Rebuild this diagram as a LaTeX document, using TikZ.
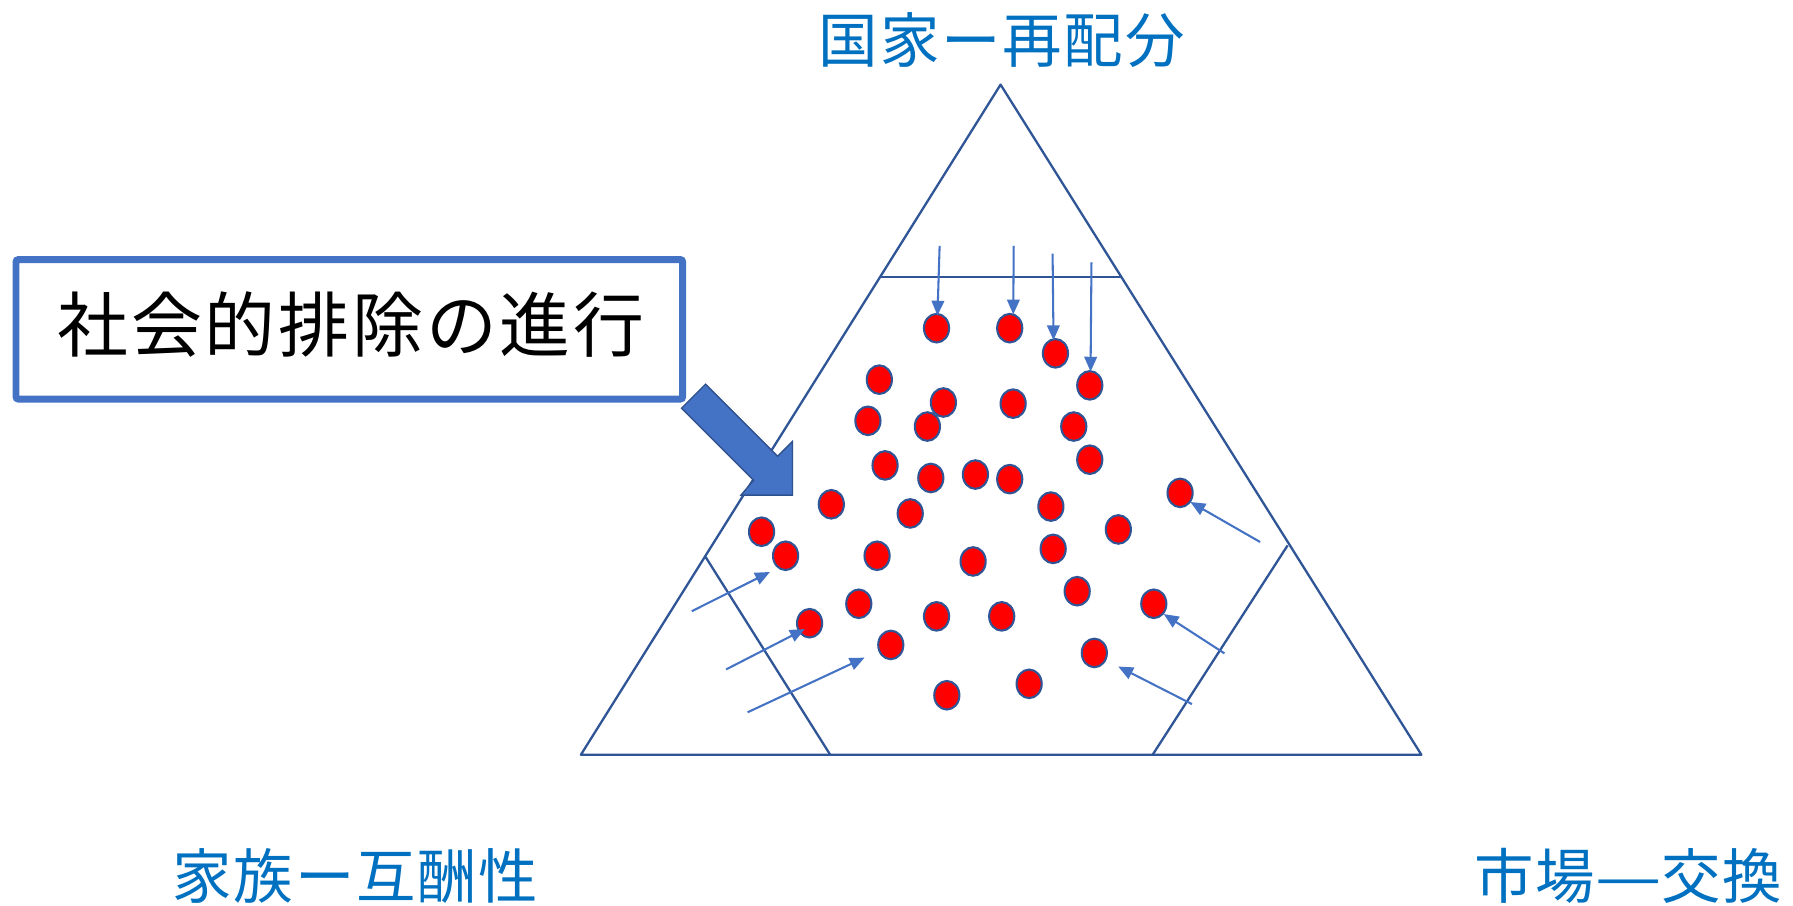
\documentclass[tikz,border=0pt]{standalone}
\usepackage{fontspec}
\newfontfamily\cjk{Noto Sans CJK JP}
\newfontfamily\cjklbl[LetterSpace=3]{Noto Sans CJK JP}
\newfontfamily\cjkbox[LetterSpace=4]{Noto Sans CJK JP}
\usetikzlibrary{arrows.meta,shapes.geometric}
\definecolor{lblblue}{HTML}{0070C0}
\definecolor{tri}{HTML}{2F5597}
\definecolor{acc}{HTML}{4472C4}
\definecolor{accdark}{HTML}{2F528F}
\tikzset{
  cornerlabel/.style={font=\cjklbl\fontsize{52}{60}\selectfont, text=lblblue, inner sep=0pt},
  boxtext/.style={font=\cjkbox\fontsize{62}{70}\selectfont, text=black, inner sep=0pt},
  dot/.style={ellipse, fill=red, draw=tri, line width=1.8pt, minimum width=22pt, minimum height=25pt, inner sep=0pt},
  inarrow/.style={draw=acc, line width=1.8pt, -{Triangle[length=13pt,width=11pt]}},
  edgeline/.style={draw=tri, line width=2pt, line join=round},
  bigarrow/.style={fill=acc, draw=accdark, line width=1.2pt, line join=miter},
  titlebox/.style={draw=acc, line width=6pt, rounded corners=2pt}
}
\begin{document}
\begin{tikzpicture}[x=1pt,y=-1pt]
\useasboundingbox (0,0) rectangle (1568,792);
\fill[white] (0,0) rectangle (1568,792);

% triangle
\coordinate (apex) at (875,74);
\coordinate (bl) at (508,660);
\coordinate (br) at (1243,660);
\coordinate (tl) at (769,242);
\coordinate (tr) at (981,242);
\coordinate (ll) at (617,487);
\coordinate (lb) at (726,660);
\coordinate (rr) at (1126,477);
\coordinate (rb) at (1008,660);
\draw[edgeline] (apex) -- (bl) -- (br) -- cycle;
\draw[edgeline] (tl) -- (tr);
\draw[edgeline] (ll) -- (lb);
\draw[edgeline] (rr) -- (rb);

% labels
\node[cornerlabel] (top) at (876,35) {国家ー再配分};
\node[cornerlabel] (fam) at (311,766) {家族ー互酬性};
\node[cornerlabel] (mkt) at (1424,766) {市場\scalebox{1.25}[1]{—}交換};

% box
\draw[titlebox] (14,227) rectangle (597,349);
\node[boxtext] (exc) at (307,284) {社会的排除の進行};

% big arrow
\draw[bigarrow] (617,336) -- (680,399) -- (693,386) -- (693,433) -- (648,433) -- (659,420) -- (596,357) -- cycle;

% dots
\foreach \i/\x/\y in {
 1/819/287, 2/883/287, 3/923/309, 4/953/337, 5/769/332, 6/825/352, 7/886/353,
 8/759/368, 9/811/373, 10/939/373, 11/953/402, 12/774/407, 13/814/418, 14/853/415,
 15/883/419, 16/727/441, 17/796/449, 18/919/443, 19/1032/431, 20/978/463, 21/666/465,
 22/687/486, 23/767/486, 24/851/491, 25/921/480, 26/942/517, 27/1009/528, 28/751/528,
 29/819/539, 30/876/539, 31/708/545, 32/779/564, 33/957/571, 34/828/608, 35/900/598}
 { \node[dot] (d\i) at (\x,\y) {}; }

% arrows
\foreach \n/\xa/\ya/\xb/\yb in {
 1/821.7/215/819.8/276, 2/886.5/215/886.1/275, 3/920.5/221.7/921.3/297.5, 4/954.5/229.5/953.7/325,
 5/605/534.5/673.3/500.2, 6/635/585.4/703.8/550.1, 7/653.8/622.9/756.1/575.1,
 8/1102/474/1041/439, 9/1070.8/571.4/1017.7/537, 10/1042.3/615.7/977.9/582.9}
 { \coordinate (s\n) at (\xa,\ya); \coordinate (e\n) at (\xb,\yb); \draw[inarrow] (s\n) -- (e\n); }
\end{tikzpicture}
\end{document}
